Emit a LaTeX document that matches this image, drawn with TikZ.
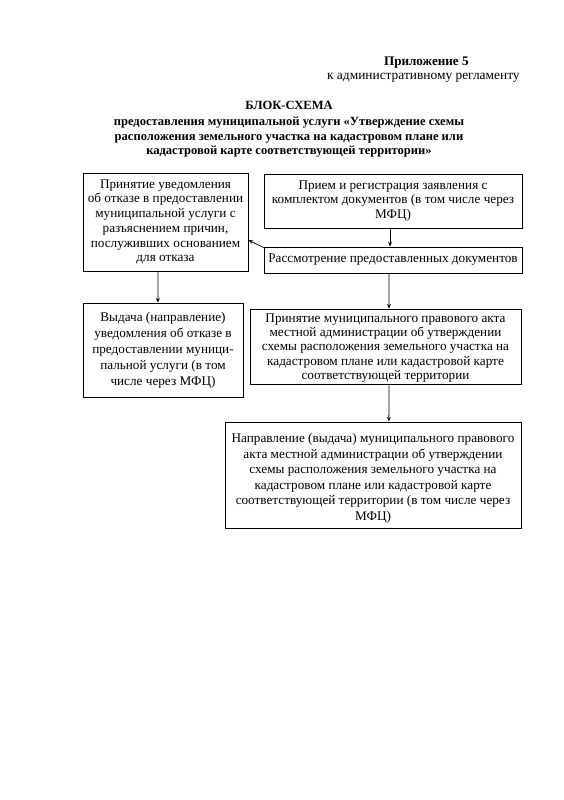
\documentclass[tikz,border=0pt]{standalone}
\usepackage{fontspec}
\setmainfont{Liberation Serif}
\usetikzlibrary{positioning,arrows.meta}

\tikzset{
  block/.style={rectangle, draw, line width=0.8pt, align=center, inner sep=1pt,
    font=\fontsize{14}{15.6}\selectfont},
  flow/.style={-{Stealth[length=5pt,width=4pt]}, line width=0.8pt}
}

\begin{document}
\begin{tikzpicture}[x=0.3723mm, y=-0.3723mm]
  \useasboundingbox[fill=white] (0,0) rectangle (564,800);

  % Header
  \node[anchor=east, font=\fontsize{13.9}{15}\selectfont\bfseries] (app) at (472,63) {Приложение 5};
  \node[anchor=east, font=\fontsize{14.2}{15}\selectfont] (reg) at (523,78) {к административному регламенту};
  \node[align=center, font=\fontsize{13.3}{15.6}\selectfont\bfseries] (title) at (289,129.5)
    {БЛОК-СХЕМА\\[1pt]
     предоставления муниципальной услуги «Утверждение схемы\\
     расположения земельного участка на кадастровом плане или\\
     кадастровой карте соответствующей территории»};

  % Right column
  \node[block, minimum width=96mm, minimum height=20.1mm] (recv) at (393,201)
    {Прием и регистрация заявления с\\комплектом документов (в том числе через\\МФЦ)};
  \node[block, minimum width=96mm, minimum height=9.7mm] (review) at (393,260)
    {Рассмотрение предоставленных документов};
  \node[block, minimum width=100.9mm, minimum height=27.9mm,
        font=\fontsize{14}{14.9}\selectfont] (accept) at (385.5,346.5)
    {\rule{0pt}{12.5pt}Принятие муниципального правового акта\\местной администрации об утверждении\\схемы расположения земельного участка на\\кадастровом плане или кадастровой карте\\соответствующей территории};
  \node[block, minimum width=110.2mm, minimum height=39.5mm,
        font=\fontsize{14}{16.4}\selectfont] (send) at (373,475)
    {\rule{0pt}{17pt}Направление (выдача) муниципального правового\\акта местной администрации об утверждении\\схемы расположения земельного участка на\\кадастровом плане или кадастровой карте\\соответствующей территории (в том числе через\\МФЦ)};

  % Left column
  \node[block, minimum width=61.4mm, minimum height=36.5mm] (refuse) at (165.5,222)
    {Принятие уведомления\\об отказе в предоставлении\\муниципальной услуги с\\разъяснением причин,\\послуживших основанием\\для отказа};
  \node[block, minimum width=59.6mm, minimum height=35mm,
        font=\fontsize{14}{17}\selectfont] (issue) at (163,350)
    {Выдача (направление)\\уведомления об отказе в\\предоставлении муници-\\пальной услуги (в том\\числе через МФЦ)};

  % Connectors
  \draw[flow] ([xshift=-1.1mm]recv.south) -- ([xshift=-1.1mm]review.north);
  \draw[flow] ([xshift=-1.5mm]review.south) -- ([xshift=1.3mm]accept.north);
  \draw[flow] ([xshift=1.3mm]accept.south) -- ([xshift=5.9mm]send.north);
  \draw[flow] ([xshift=-2.8mm]refuse.south) -- ([xshift=-1.9mm]issue.north);
  \draw[flow] ([yshift=-0.4mm]review.north west) -- ([yshift=-6.7mm]refuse.east);
\end{tikzpicture}
\end{document}
